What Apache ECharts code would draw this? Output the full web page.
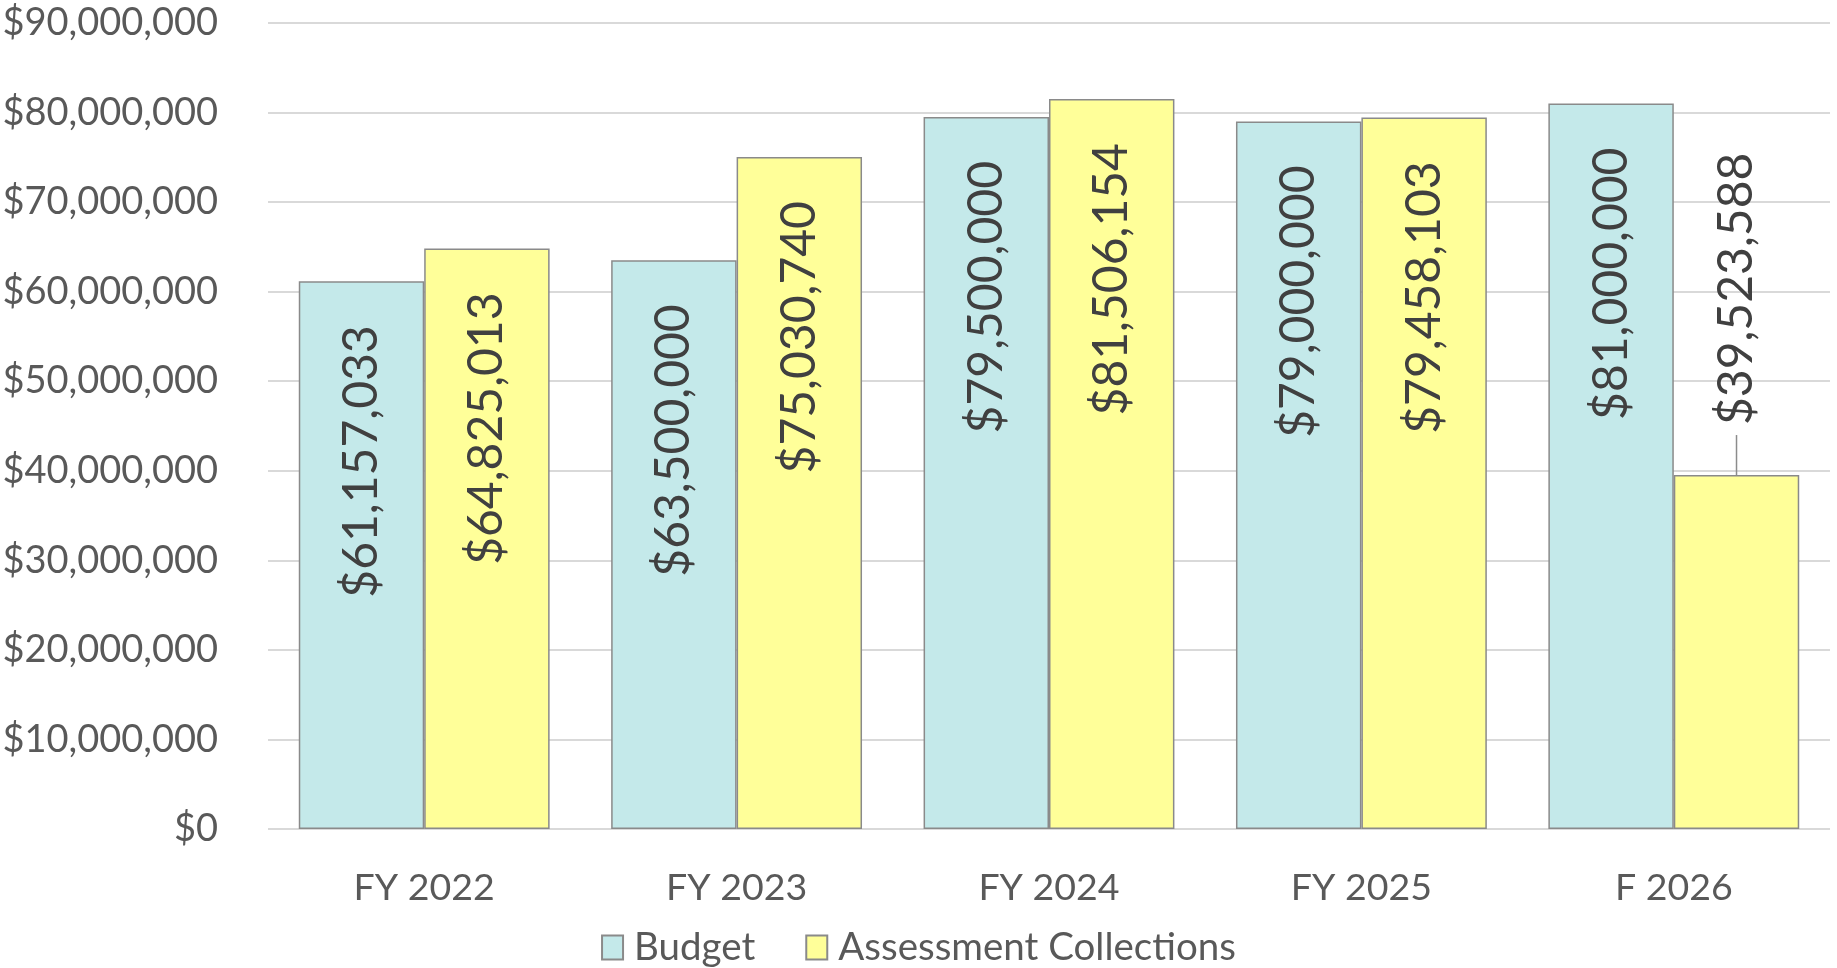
<!DOCTYPE html>
<html><head><meta charset="utf-8">
<script src="https://cdn.jsdelivr.net/npm/echarts@6/dist/echarts.min.js"></script>
<style>html,body{margin:0;padding:0;background:#fff}#c{width:1837px;height:968px}</style>
</head><body><div id="c"></div>
<script>
const categories = ['FY 2022', 'FY 2023', 'FY 2024', 'FY 2025', 'F 2026'];
const budget = [61157033, 63500000, 79500000, 79000000, 81000000];
const collections = [64825013, 75030740, 81506154, 79458103, 39523588];
const seriesNames = ['Budget', 'Assessment Collections'];
const yMin = 0, yMax = 90000000, yStep = 10000000;

const FONT = 'Lato, "Open Sans", sans-serif';
const TEXT = '#595959';
const LABEL = '#404040';
const fmt = v => '$' + Math.round(v).toLocaleString('en-US');

const insideLabel = {
  show: true, position: 'insideTop', rotate: 90, align: 'right', verticalAlign: 'middle',
  distance: 44, fontSize: 48, fontFamily: FONT, color: LABEL,
  formatter: p => fmt(p.value)
};
// outside label with a leader line drawn as part of the label
const outsideLabel = Object.assign({}, insideLabel, {
  position: 'top', align: 'left', distance: 0,
  formatter: p => '{l|}{g|}{v|' + fmt(p.value) + '}',
  rich: {
    l: { width: 40, height: 1.5, backgroundColor: '#8c8c8c' },
    g: { width: 10 },
    v: { fontSize: 48, fontFamily: FONT, color: LABEL }
  }
});

function toData(arr) {
  return arr.map(v => (v < (yMax - yMin) / 2) ? { value: v, label: outsideLabel } : { value: v });
}

function makeSeries(name, arr, color) {
  return {
    name: name, type: 'bar', data: toData(arr),
    barGap: '0%', barCategoryGap: '19.7%',
    itemStyle: { color: color, borderColor: '#8a8a8a', borderWidth: 1.5 },
    label: insideLabel
  };
}

const chart = echarts.init(document.getElementById('c'));
chart.setOption({
  backgroundColor: '#ffffff',
  animation: false,
  grid: { left: 268, right: 7, top: 23, bottom: 139, containLabel: false, outerBoundsMode: 'none' },
  legend: {
    data: seriesNames, top: 923, left: 'center',
    icon: 'rect', itemWidth: 21, itemHeight: 24, itemGap: 50,
    textStyle: { fontSize: 38.5, fontFamily: FONT, color: TEXT, padding: [0, 0, 0, 6] }
  },
  xAxis: {
    type: 'category', data: categories,
    axisLine: { show: false }, axisTick: { show: false },
    axisLabel: { fontSize: 37.5, fontFamily: FONT, color: TEXT, margin: 40 }
  },
  yAxis: {
    type: 'value', min: yMin, max: yMax, interval: yStep,
    axisLine: { show: false }, axisTick: { show: false },
    axisLabel: { fontSize: 38, fontFamily: FONT, color: TEXT, margin: 50, formatter: v => fmt(v) },
    splitLine: { lineStyle: { color: '#d9d9d9', width: 2 } }
  },
  series: [
    makeSeries(seriesNames[0], budget, '#c4e9ea'),
    makeSeries(seriesNames[1], collections, '#ffff99')
  ]
});
</script>
</body></html>
